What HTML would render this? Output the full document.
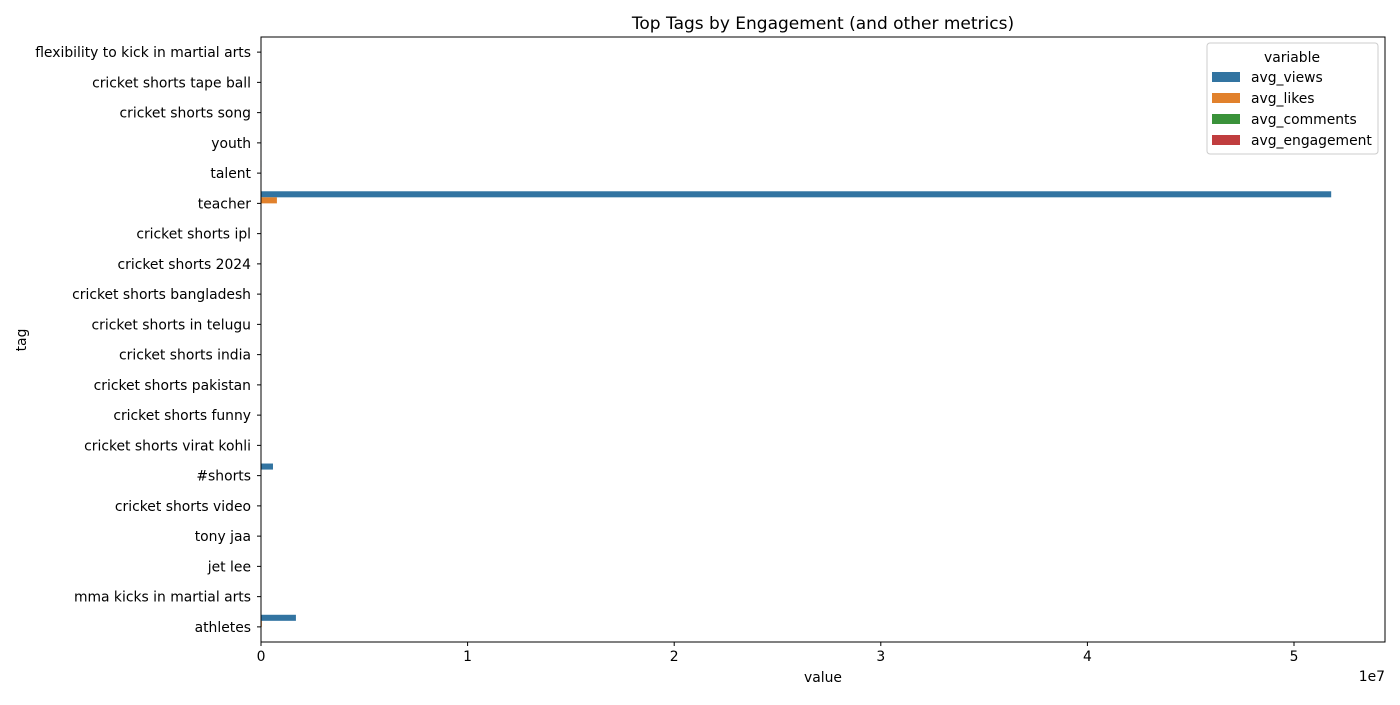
<!DOCTYPE html>
<html><head><meta charset="utf-8"><style>
body{margin:0;background:#fff;font-family:"Liberation Sans","DejaVu Sans",sans-serif;}
svg text{font-family:"DejaVu Sans","Liberation Sans",sans-serif;fill:#000;}
</style></head><body>
<svg id="chart" width="1400" height="700" xmlns="http://www.w3.org/2000/svg">
<rect width="1400" height="700" fill="#fff"/>
<g id="bars"></g>
<g id="axes"></g>
</svg>
<script>
const categories=["flexibility to kick in martial arts","cricket shorts tape ball","cricket shorts song","youth","talent","teacher","cricket shorts ipl","cricket shorts 2024","cricket shorts bangladesh","cricket shorts in telugu","cricket shorts india","cricket shorts pakistan","cricket shorts funny","cricket shorts virat kohli","#shorts","cricket shorts video","tony jaa","jet lee","mma kicks in martial arts","athletes"];
const seriesNames=["avg_views","avg_likes","avg_comments","avg_engagement"];
const avgViews=[12000,15000,14000,20000,25000,51800000,18000,16000,14000,13000,15000,14000,16000,17000,580000,15000,22000,20000,12000,1690000];
const avgLikes=[500,600,550,800,900,770000,700,600,500,450,600,500,650,700,20000,600,900,800,500,40000];
const avgComments=[20,25,20,30,35,9000,30,25,20,20,25,20,25,30,300,25,35,30,20,800];
const avgEngagement=[0.05,0.05,0.05,0.05,0.05,0.05,0.05,0.05,0.05,0.05,0.05,0.05,0.05,0.05,0.05,0.05,0.05,0.05,0.05,0.05];
const xTicks=[0,1e7,2e7,3e7,4e7,5e7];
const xTickLabels=["0","1","2","3","4","5"];
const colors=["#3274a1","#e1812c","#3a923a","#c03d3e"];
const L=261,R=1385,T=37,B=642;
const FS=13.9;
const xs=v=>L+v/5e7*(1294-L);
const band=(B-T)/categories.length;
const ys=i=>T+band*(i+0.5);
const NS="http://www.w3.org/2000/svg";
function mk(tag,attrs,parent){const e=document.createElementNS(NS,tag);for(const k in attrs)e.setAttribute(k,attrs[k]);parent.appendChild(e);return e;}
const gb=document.getElementById('bars'),ga=document.getElementById('axes');
const all=[avgViews,avgLikes,avgComments,avgEngagement];
const bw=band*0.8/4;
all.forEach((arr,s)=>{arr.forEach((v,i)=>{
 const y=ys(i)-band*0.4+s*bw;
 const r=mk('rect',{x:L,y:y,width:Math.max(0,xs(v)-L),height:bw,fill:colors[s]},gb);
 
 
});});
const frame=mk('rect',{x:L,y:T,width:R-L,height:B-T,fill:'none',stroke:'#000','stroke-width':1},ga);


categories.forEach((c,i)=>{
 mk('line',{x1:L-4,x2:L,y1:ys(i),y2:ys(i),stroke:'#000'},ga);
 const t=mk('text',{x:L-10,y:ys(i)+5,'text-anchor':'end','font-size':FS},ga);
 t.textContent=c;
 
 
});
xTicks.forEach((v,i)=>{
 mk('line',{x1:xs(v),x2:xs(v),y1:B,y2:B+4,stroke:'#000'},ga);
 const t=mk('text',{x:xs(v),y:B+19,'text-anchor':'middle','font-size':FS},ga);
 t.textContent=xTickLabels[i];
 
 
});
function txt(s,attrs,name){const t=mk('text',attrs,ga);t.textContent=s;return t;}
txt('1e7',{x:1385,y:681,'text-anchor':'end','font-size':FS},'x-offset-label');
txt('value',{x:823,y:682,'text-anchor':'middle','font-size':FS},'x-axis-title');
txt('tag',{x:26,y:340,'text-anchor':'middle','font-size':FS,transform:'rotate(-90 26 340)'},'y-axis-title');
txt('Top Tags by Engagement (and other metrics)',{x:823,y:29,'text-anchor':'middle','font-size':17},'chart-title');
const lg=mk('g',{},ga);


mk('rect',{x:1207,y:43,width:171,height:111,rx:3,fill:'#fff',stroke:'#ccc','fill-opacity':0.8},lg);
const lt=mk('text',{x:1292,y:62,'text-anchor':'middle','font-size':FS},lg);lt.textContent='variable';
seriesNames.forEach((n,s)=>{
 const y=77+s*21;
 const e=mk('g',{},lg);
 
 
 mk('rect',{x:1212,y:y-5,width:28,height:10,fill:colors[s]},e);
 const t=mk('text',{x:1251,y:y+5,'font-size':FS},e);t.textContent=n;
});
</script>
</body></html>
